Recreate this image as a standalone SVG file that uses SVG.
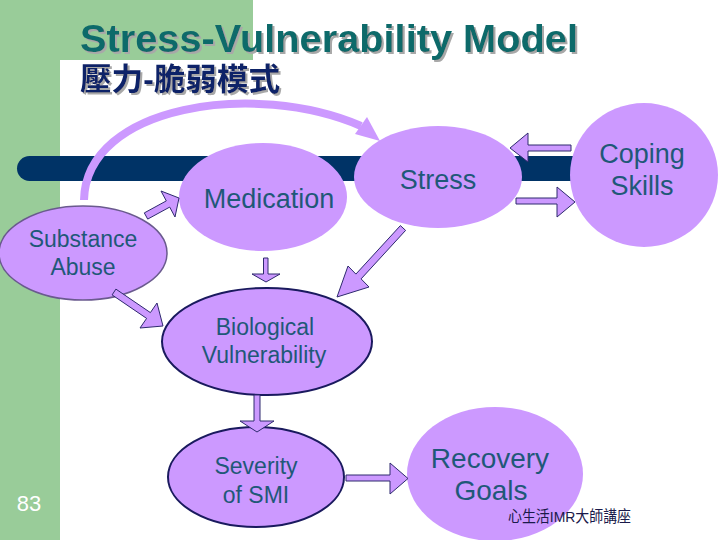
<svg xmlns="http://www.w3.org/2000/svg" width="720" height="540" viewBox="0 0 720 540">
<defs>
<filter id="shadow" x="-5%" y="-20%" width="110%" height="150%">
<feDropShadow dx="2" dy="2" stdDeviation="0.6" flood-color="#a8a8a8" flood-opacity="1"/>
</filter>
</defs>
<style>
.node{fill:#CC99FF;}
.n-dark{stroke:#1a1a5e;stroke-width:2;}
.n-sub{stroke:#6a5a8e;stroke-width:1.5;}
.lbl{font-family:"Liberation Sans",Arial,sans-serif;fill:#1F5878;text-anchor:middle;}
.big{font-size:27px;}
.mid{font-size:23px;}
.blk{fill:#CC99FF;stroke:#2e2a6e;stroke-width:1;stroke-linejoin:miter;}
</style>
<rect x="0" y="0" width="720" height="540" fill="#ffffff"/>
<rect x="0" y="0" width="253" height="60" fill="#99CC99"/>
<rect x="0" y="0" width="60" height="540" fill="#99CC99"/>
<rect x="60" y="60" width="720" height="540" rx="22" ry="22" fill="#ffffff"/>
<text x="80" y="52" font-family="'Liberation Sans',Arial,sans-serif" font-size="39" font-weight="bold" fill="#106B6B" filter="url(#shadow)" textLength="498" lengthAdjust="spacingAndGlyphs">Stress-Vulnerability Model</text>
<text x="80" y="90" font-family="'Liberation Sans','Noto Sans CJK TC',sans-serif" font-size="31" font-weight="bold" fill="#0f2468" filter="url(#shadow)" textLength="200" lengthAdjust="spacingAndGlyphs">壓力-脆弱模式</text>
<rect id="bar" x="17" y="156" width="640" height="25" rx="12.5" ry="12.5" fill="#003366"/>
<g id="connectors-curve">
<path d="M 84 200 C 86 105, 255 80, 361 126" fill="none" stroke="#CC99FF" stroke-width="8"/>
<polygon points="355,134 367,117 380,141" fill="#CC99FF"/>
</g>
<g id="medication">
<ellipse class="node" cx="263" cy="197" rx="84" ry="54"/>
<text class="lbl big" x="269" y="208">Medication</text>
</g>
<g id="stress">
<ellipse class="node" cx="438" cy="177" rx="84" ry="51"/>
<text class="lbl big" x="438" y="189">Stress</text>
</g>
<g id="coping">
<ellipse class="node" cx="644" cy="175" rx="74" ry="72"/>
<text class="lbl big" x="642" y="163">Coping</text>
<text class="lbl big" x="642" y="195">Skills</text>
</g>
<g id="substance">
<ellipse class="node n-sub" cx="83" cy="253" rx="84" ry="47"/>
<text class="lbl mid" x="83" y="247">Substance</text>
<text class="lbl mid" x="83" y="275">Abuse</text>
</g>
<g id="biological">
<ellipse class="node n-dark" cx="267" cy="341.5" rx="105" ry="53.5"/>
<text class="lbl mid" x="265" y="335">Biological</text>
<text class="lbl mid" x="264" y="363">Vulnerability</text>
</g>
<g id="severity">
<ellipse class="node n-dark" cx="256" cy="477" rx="88" ry="50"/>
<text class="lbl mid" x="256" y="474">Severity</text>
<text class="lbl mid" x="256" y="503">of SMI</text>
</g>
<g id="recovery">
<ellipse class="node" cx="495" cy="474" rx="88" ry="67"/>
<text class="lbl" x="490" y="468" font-size="28">Recovery</text>
<text class="lbl" x="491" y="500" font-size="28">Goals</text>
</g>
<g id="connectors">
<polygon class="blk" points="147.7,219.1 169.7,207.1 175,217 179,198 161,191 166.3,200.9 144.3,212.9"/>
<polygon class="blk" points="263.5,258 268,258 268,274 280,274 266,282 252,274 263.5,274"/>
<polygon class="blk" points="405.6,230.4 361.1,278.9 369,287 337,297 348,266 355.9,274.1 400.4,225.6"/>
<polygon class="blk" points="112.1,294.9 146.6,318.4 140,328 163,326 157,303 150.4,312.6 115.9,289.1"/>
<polygon class="blk" points="571,145 528,145 528,133 510,148 528,162 528,151 571,151"/>
<polygon class="blk" points="516,198 557,198 557,187 575,202 557,217 557,204 516,204"/>
<polygon class="blk" points="254,395 260,395 260,421 274,421 257,432 240,421 254,421"/>
<polygon class="blk" points="346,475 390,475 390,463 408,478.5 390,494 390,481 346,481"/>
</g>
<text x="29" y="511" font-family="'Liberation Sans',Arial,sans-serif" font-size="22" fill="#ffffff" text-anchor="middle">83</text>
<text x="508" y="522" font-family="'Liberation Sans','Noto Sans CJK TC',sans-serif" font-size="15.5" fill="#1a1a4a" textLength="123" lengthAdjust="spacingAndGlyphs">心生活IMR大師講座</text>
</svg>
